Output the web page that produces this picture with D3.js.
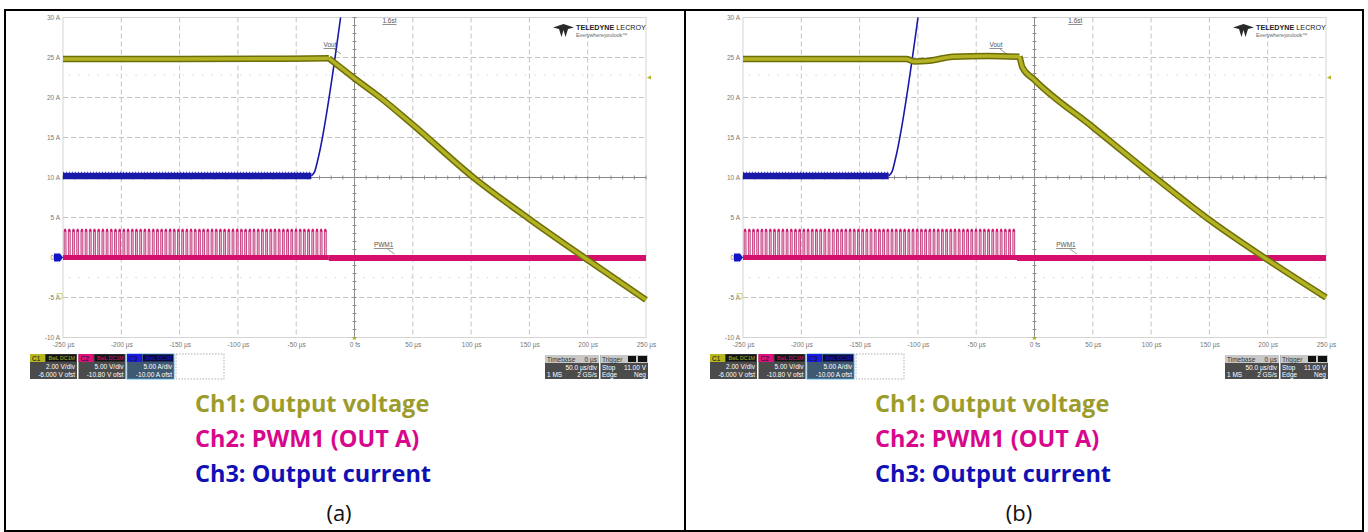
<!DOCTYPE html>
<html>
<head>
<meta charset="utf-8">
<style>
  body { margin: 0; background: #fff; }
  svg { display: block; }
  .tick text { font: 6.5px "Liberation Sans", Arial, sans-serif; fill: #777; }
  .small { font: 6.5px "Liberation Sans", Arial, sans-serif; }
  .tiny { font: 5.3px "Liberation Sans", Arial, sans-serif; }
  .caption { font: bold 23.5px "Open Sans", sans-serif; }
  .letter { font: 22px "Open Sans", sans-serif; fill: #111; }
</style>
<script src="https://d3js.org/d3.v7.min.js"></script>
</head>
<body>
<svg id="chart" width="1368" height="532"></svg>
<script>
// axis ticks and labels (scope grid)
var timeTicks = [-250, -200, -150, -100, -50, 0, 50, 100, 150, 200, 250];
var timeLabels = ["-250 µs", "-200 µs", "-150 µs", "-100 µs", "-50 µs", "0 fs", "50 µs", "100 µs", "150 µs", "200 µs", "250 µs"];
var ampTicks = [30, 25, 20, 15, 10, 5, 0, -5, -10];
var ampLabels = ["30 A", "25 A", "20 A", "15 A", "10 A", "5 A", "0 A", "-5 A", "-10 A"];

// Ch1 output voltage, [time µs, level]; flat part then the ramp down
var ch1FlatA = [[-250, 24.8], [-150, 24.8], [-60, 24.85], [-22, 24.9]];
var ch1RampA = [[-22, 24.9], [0, 22.4], [22, 20.0], [50, 16.6], [102, 10.0], [150, 4.8], [197, 0], [250, -5.3]];
var ch1FlatB = [[-250, 24.8], [-110, 24.8], [-103, 24.5], [-90, 24.6], [-70, 25.1], [-40, 25.2], [-13, 25.1]];
var ch1RampB = [[-13, 25.1], [-12.5, 24.9], [-10.5, 23.8], [0, 22.2], [50, 16.3], [100, 10.4], [150, 4.7], [200, -0.3], [250, -5.0]];

// Ch3 output current
var ch3FlatA = [[-250, 10.2], [-37, 10.2]];
var ch3RampA = [[-37, 10.2], [-34, 10.8], [-31, 12.5], [-11, 31]];
var ch3FlatB = [[-250, 10.2], [-125, 10.2]];
var ch3RampB = [[-125, 10.2], [-122, 10.8], [-119, 12.5], [-99, 31]];

// Ch2 PWM1 rising edges (µs), pulse width, high level, stop time
var pwmRiseA = [-249, -245.4, -241.8, -238.2, -234.6, -231, -227.4, -223.8, -220.2, -216.6, -213, -209.4, -205.8, -202.2, -198.6, -195, -191.4, -187.8, -184.2, -180.6, -177, -173.4, -169.8, -166.2, -162.6, -159, -155.4, -151.8, -148.2, -144.6, -141, -137.4, -133.8, -130.2, -126.6, -123, -119.4, -115.8, -112.2, -108.6, -105, -101.4, -97.8, -94.2, -90.6, -87, -83.4, -79.8, -76.2, -72.6, -69, -65.4, -61.8, -58.2, -54.6, -51, -47.4, -43.8, -40.2, -36.6, -33, -29.4, -25.8];
var pwmRiseB = pwmRiseA.concat([-22.2, -18.6]);
var pwmWidth = 1.6;
var pwmHigh = 3.4;
var pwmStopA = -22;
var pwmStopB = -15;

// scope annotation labels [text, time, level]
var notesA = [["Vout", -21, 26.3], ["PWM1", 25, 1.3], ["1.6st", 30, 29.3]];
var notesB = [["Vout", -33, 26.3], ["PWM1", 27, 1.3], ["1.6st", 35, 29.3]];

var chanBoxes = [
    { name: "C1", tag: "BwL DC1M", div: "2.00 V/div", ofst: "-6.000 V ofst", col: "#b5b51e", body: "#4b4b4b" },
    { name: "C2", tag: "BwL DC1M", div: "5.00 V/div", ofst: "-10.80 V ofst", col: "#e0107a", body: "#4b4b4b" },
    { name: "C3", tag: "BwL DC1M", div: "5.00 A/div", ofst: "-10.00 A ofst", col: "#1a1ae0", body: "#3e5a72" }
];
var timebaseText = ["Timebase", "0 µs", "50.0 µs/div", "1 MS", "2 GS/s"];
var triggerText = ["Trigger", "Stop", "11.00 V", "Edge", "Neg"];

var captions = [
    ["Ch1: Output voltage", "#9c9c2c"],
    ["Ch2: PWM1 (OUT A)", "#d8088c"],
    ["Ch3: Output current", "#1010b4"]
];

var svg = d3.select("#chart");

function drawPanel(dx, cfg) {
    var g = svg.append("g").attr("transform", "translate(" + dx + ",0)");
    var x = d3.scaleLinear().domain([-250, 250]).range([63, 646]);
    var y = d3.scaleLinear().domain([30, -10]).range([17.5, 337.5]);

    // frame
    g.append("rect").attr("x", 63).attr("y", 17.5).attr("width", 583).attr("height", 320)
        .attr("fill", "none").attr("stroke", "#d4d4d4");

    // dashed grid
    g.selectAll(".vg").data(timeTicks.slice(1, -1)).enter().append("line")
        .attr("x1", function (d) { return x(d); }).attr("x2", function (d) { return x(d); })
        .attr("y1", y(30)).attr("y2", y(-10))
        .attr("stroke", "#c4c4c4").attr("stroke-dasharray", "5,3");
    g.selectAll(".hg").data(ampTicks.slice(1, -1)).enter().append("line")
        .attr("y1", function (d) { return y(d); }).attr("y2", function (d) { return y(d); })
        .attr("x1", x(-250)).attr("x2", x(250))
        .attr("stroke", "#c4c4c4").attr("stroke-dasharray", "5,3");

    // faint dotted level rows
    [22.8, -2.5].forEach(function (v) {
        g.append("line").attr("x1", x(-245)).attr("x2", x(245))
            .attr("y1", y(v)).attr("y2", y(v))
            .attr("stroke", "#d4d4d4").attr("stroke-dasharray", "1.5,8");
    });

    // center cross with minor ticks
    g.append("line").attr("x1", x(0)).attr("x2", x(0)).attr("y1", y(30)).attr("y2", y(-10)).attr("stroke", "#8a8a8a");
    g.append("line").attr("x1", x(-250)).attr("x2", x(250)).attr("y1", y(10)).attr("y2", y(10)).attr("stroke", "#8a8a8a");
    g.selectAll(".mty").data(y.ticks(40)).enter().append("line")
        .attr("x1", x(0) - 2).attr("x2", x(0) + 2)
        .attr("y1", function (d) { return y(d); }).attr("y2", function (d) { return y(d); })
        .attr("stroke", "#8a8a8a");
    g.selectAll(".mtx").data(x.ticks(50)).enter().append("line")
        .attr("y1", y(10) - 2).attr("y2", y(10) + 2)
        .attr("x1", function (d) { return x(d); }).attr("x2", function (d) { return x(d); })
        .attr("stroke", "#8a8a8a");

    // axes labels
    var yAxis = g.append("g").attr("transform", "translate(62,0)")
        .call(d3.axisLeft(y).tickValues(ampTicks).tickSize(0).tickPadding(2)
            .tickFormat(function (d, i) { return ampLabels[i]; }));
    yAxis.select(".domain").remove();
    var xAxis = g.append("g").attr("transform", "translate(0,340)")
        .call(d3.axisBottom(x).tickValues(timeTicks).tickSize(0).tickPadding(2)
            .tickFormat(function (d, i) { return timeLabels[i]; }));
    xAxis.select(".domain").remove();

    // Ch2 PWM
    var pw = g.append("g");
    pw.selectAll(".pf").data(cfg.pwm).enter().append("rect")
        .attr("x", function (d) { return x(d); })
        .attr("width", function (d) { return x(d + pwmWidth) - x(d); })
        .attr("y", y(pwmHigh)).attr("height", y(0) - y(pwmHigh))
        .attr("fill", "#f0bcd6");
    pw.selectAll(".pe").data(cfg.pwm).enter().append("path")
        .attr("d", function (d) {
            return "M" + x(d) + "," + y(0) + "V" + y(pwmHigh) + "H" + x(d + pwmWidth) + "V" + y(0);
        })
        .attr("fill", "none").attr("stroke", "#b8206a").attr("stroke-width", 0.8);
    pw.selectAll(".pc").data(cfg.pwm).enter().append("line")
        .attr("x1", function (d) { return x(d); }).attr("x2", function (d) { return x(d + pwmWidth); })
        .attr("y1", y(pwmHigh)).attr("y2", y(pwmHigh))
        .attr("stroke", "#d4106c").attr("stroke-width", 3);
    pw.append("line").attr("x1", x(-250)).attr("x2", x(cfg.pwmStop)).attr("y1", y(0)).attr("y2", y(0))
        .attr("stroke", "#d4106c").attr("stroke-width", 5);
    pw.append("line").attr("x1", x(cfg.pwmStop)).attr("x2", x(250)).attr("y1", y(-0.05)).attr("y2", y(-0.05))
        .attr("stroke", "#d4106c").attr("stroke-width", 6);

    var line = d3.line().x(function (d) { return x(d[0]); }).y(function (d) { return y(d[1]); });
    var smooth = d3.line().curve(d3.curveMonotoneX).x(function (d) { return x(d[0]); }).y(function (d) { return y(d[1]); });

    // Ch3 current
    g.append("path").datum(cfg.ch3Flat).attr("d", line)
        .attr("fill", "none").attr("stroke", "#1a1aa8").attr("stroke-width", 6.5);
    g.append("path").datum(cfg.ch3Flat).attr("d", line)
        .attr("fill", "none").attr("stroke", "#4a4ad0").attr("stroke-width", 1.2)
        .attr("stroke-dasharray", "1,2").attr("transform", "translate(0,-3.5)");
    g.append("clipPath").attr("id", "clip" + dx).append("rect")
        .attr("x", 63).attr("y", 17.5).attr("width", 583).attr("height", 320);
    g.append("path").datum(cfg.ch3Ramp).attr("d", smooth).attr("clip-path", "url(#clip" + dx + ")")
        .attr("fill", "none").attr("stroke", "#1a1aa8").attr("stroke-width", 1.6);

    // Ch1 voltage band
    [[6.5, "#6e6e08"], [3.5, "#b2b224"]].forEach(function (s) {
        g.append("path").datum(cfg.ch1Flat).attr("d", smooth)
            .attr("fill", "none").attr("stroke", s[1]).attr("stroke-width", s[0]).attr("stroke-linejoin", "round");
        g.append("path").datum(cfg.ch1Ramp).attr("d", smooth)
            .attr("fill", "none").attr("stroke", s[1]).attr("stroke-width", s[0]).attr("stroke-linejoin", "round");
    });

    // notes
    cfg.notes.forEach(function (n) {
        g.append("text").attr("class", "small").attr("x", x(n[1])).attr("y", y(n[2]))
            .attr("text-anchor", "middle").attr("fill", "#555").attr("text-decoration", "underline")
            .text(n[0]);
        if (n[0] != "1.6st") {
            g.append("line").attr("x1", x(n[1]) + 4).attr("x2", x(n[1]) + 11)
                .attr("y1", y(n[2]) + 2).attr("y2", y(n[2]) + 7)
                .attr("stroke", "#555").attr("stroke-width", 0.6);
        }
    });

    // markers
    g.append("path").attr("d", "M" + (x(-250) - 9) + "," + (y(0) - 4) + "h6l3,4l-3,4h-6z").attr("fill", "#1414c8");
    g.append("rect").attr("x", 57).attr("y", y(-5) - 4).attr("width", 5).attr("height", 5)
        .attr("fill", "none").attr("stroke", "#c8c850").attr("stroke-width", 0.7);
    g.append("path").attr("d", "M" + (x(250) + 1) + "," + y(22.5) + "l4,-2v4z").attr("fill", "#b5b51e");
    g.append("path").attr("d", "M" + x(0) + "," + (y(-10) - 1) + "l-2,3h4z").attr("fill", "#b5b51e");

    // logo
    var lg = g.append("g").attr("transform", "translate(553,24)");
    lg.append("path").attr("d", "M0,3.5 L10.5,0 L21,3.5 L15,5 L12.5,13 L10.5,6 L8.5,13 L6,5 Z").attr("fill", "#2a2a2a");
    lg.append("text").attr("x", 23).attr("y", 6).attr("font-family", "Liberation Sans, Arial").attr("font-size", 7.2)
        .attr("fill", "#222").html('<tspan font-weight="bold">TELEDYNE</tspan> LECROY');
    lg.append("text").attr("x", 23).attr("y", 12.5).attr("font-family", "Liberation Sans, Arial").attr("font-size", 5.3)
        .attr("fill", "#666").text("Everywhereyoulook™");

    // channel boxes
    chanBoxes.forEach(function (b, i) {
        var bx = 30 + i * 48.5, by = 354;
        var bg = g.append("g");
        bg.append("rect").attr("x", bx).attr("y", by).attr("width", 47).attr("height", 25).attr("fill", b.body)
            .attr("stroke", i == 2 ? "#4aa0d8" : "none").attr("stroke-width", 0.8);
        bg.append("rect").attr("x", bx).attr("y", by).attr("width", 15).attr("height", 8).attr("fill", b.col);
        bg.append("rect").attr("x", bx + 16).attr("y", by + 0.5).attr("width", 30).attr("height", 7).attr("fill", i == 2 ? "#0a0a40" : "#151515");
        bg.append("text").attr("class", "small").attr("x", bx + 2).attr("y", by + 6.5).attr("fill", "#111").text(b.name);
        bg.append("text").attr("class", "tiny").attr("x", bx + 45).attr("y", by + 6).attr("text-anchor", "end")
            .attr("fill", b.col).text(b.tag);
        bg.append("text").attr("class", "small").attr("x", bx + 45).attr("y", by + 15).attr("text-anchor", "end")
            .attr("fill", "#fff").text(b.div);
        bg.append("text").attr("class", "small").attr("x", bx + 45).attr("y", by + 23).attr("text-anchor", "end")
            .attr("fill", "#fff").text(b.ofst);
    });
    g.append("rect").attr("x", 176).attr("y", 354).attr("width", 48).attr("height", 25)
        .attr("fill", "none").attr("stroke", "#999").attr("stroke-dasharray", "1.5,1.5").attr("stroke-width", 0.8);

    // timebase / trigger boxes
    g.append("rect").attr("x", 545).attr("y", 355).attr("width", 54).attr("height", 24).attr("fill", "#4b4b4b");
    g.append("rect").attr("x", 545).attr("y", 355).attr("width", 54).attr("height", 8).attr("fill", "#c8c8c8");
    g.append("text").attr("class", "small").attr("x", 547).attr("y", 361.5).attr("fill", "#333").text(timebaseText[0]);
    g.append("text").attr("class", "small").attr("x", 597).attr("y", 361.5).attr("text-anchor", "end").attr("fill", "#333").text(timebaseText[1]);
    g.append("text").attr("class", "small").attr("x", 597).attr("y", 369.5).attr("text-anchor", "end").attr("fill", "#fff").text(timebaseText[2]);
    g.append("text").attr("class", "small").attr("x", 547).attr("y", 377).attr("fill", "#fff").text(timebaseText[3]);
    g.append("text").attr("class", "small").attr("x", 597).attr("y", 377).attr("text-anchor", "end").attr("fill", "#fff").text(timebaseText[4]);

    g.append("rect").attr("x", 600.5).attr("y", 355).attr("width", 47.5).attr("height", 24).attr("fill", "#4b4b4b");
    g.append("rect").attr("x", 600.5).attr("y", 355).attr("width", 47.5).attr("height", 8).attr("fill", "#c8c8c8");
    g.append("rect").attr("x", 628).attr("y", 356).attr("width", 8).attr("height", 6).attr("fill", "#111");
    g.append("rect").attr("x", 638).attr("y", 356).attr("width", 9).attr("height", 6).attr("fill", "#111");
    g.append("text").attr("class", "small").attr("x", 602).attr("y", 361.5).attr("fill", "#333").text(triggerText[0]);
    g.append("text").attr("class", "small").attr("x", 602).attr("y", 369.5).attr("fill", "#fff").text(triggerText[1]);
    g.append("text").attr("class", "small").attr("x", 646).attr("y", 369.5).attr("text-anchor", "end").attr("fill", "#fff").text(triggerText[2]);
    g.append("text").attr("class", "small").attr("x", 602).attr("y", 377).attr("fill", "#fff").text(triggerText[3]);
    g.append("text").attr("class", "small").attr("x", 646).attr("y", 377).attr("text-anchor", "end").attr("fill", "#fff").text(triggerText[4]);

    // captions
    captions.forEach(function (c, i) {
        g.append("text").attr("class", "caption").attr("x", 195).attr("y", 412 + i * 35)
            .attr("fill", c[1]).text(c[0]);
    });
    g.append("text").attr("class", "letter").attr("x", 339).attr("y", 521)
        .attr("text-anchor", "middle").text(cfg.letter);
}

drawPanel(0, { ch1Flat: ch1FlatA, ch1Ramp: ch1RampA, ch3Flat: ch3FlatA, ch3Ramp: ch3RampA, pwm: pwmRiseA, pwmStop: pwmStopA, notes: notesA, letter: "(a)" });
drawPanel(680, { ch1Flat: ch1FlatB, ch1Ramp: ch1RampB, ch3Flat: ch3FlatB, ch3Ramp: ch3RampB, pwm: pwmRiseB, pwmStop: pwmStopB, notes: notesB, letter: "(b)" });

// table borders
var border = svg.append("g").attr("stroke", "#000").attr("stroke-width", 2);
border.append("line").attr("x1", 4).attr("x2", 1364).attr("y1", 10).attr("y2", 10);
border.append("line").attr("x1", 4).attr("x2", 1364).attr("y1", 531).attr("y2", 531);
border.append("line").attr("x1", 5).attr("x2", 5).attr("y1", 10).attr("y2", 532);
border.append("line").attr("x1", 685).attr("x2", 685).attr("y1", 10).attr("y2", 532);
border.append("line").attr("x1", 1363).attr("x2", 1363).attr("y1", 10).attr("y2", 532);
</script>
</body>
</html>
